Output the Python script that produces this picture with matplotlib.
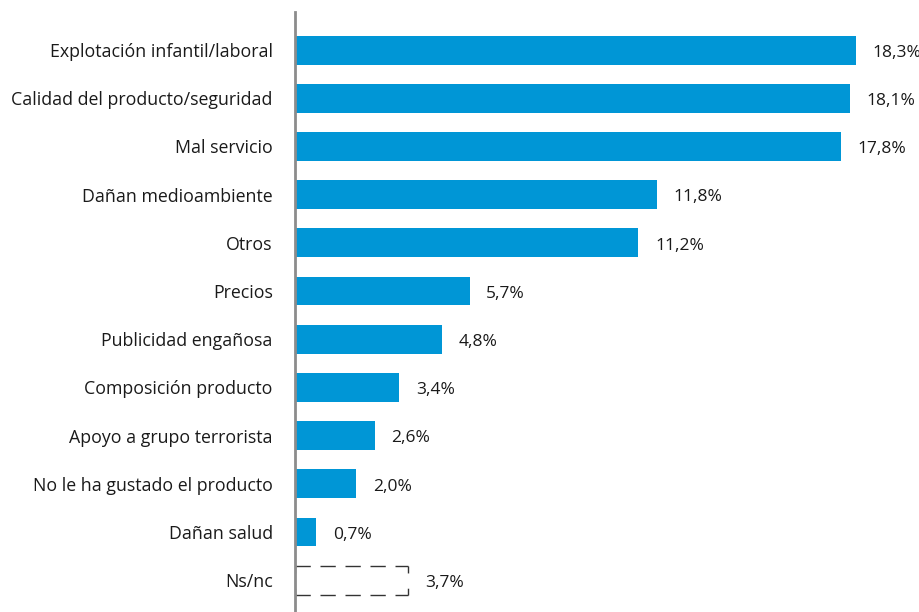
import matplotlib.pyplot as plt

categories = ['Explotación infantil/laboral', 'Calidad del producto/seguridad',
              'Mal servicio', 'Dañan medioambiente', 'Otros', 'Precios',
              'Publicidad engañosa', 'Composición producto',
              'Apoyo a grupo terrorista', 'No le ha gustado el producto',
              'Dañan salud', 'Ns/nc']
values = [18.3, 18.1, 17.8, 11.8, 11.2, 5.7, 4.8, 3.4, 2.6, 2.0, 0.7, 3.7]
dashed = [False] * 11 + [True]

plt.rcParams['font.family'] = ['Open Sans', 'DejaVu Sans']

fig = plt.figure(figsize=(9.2, 6.12), dpi=100)
ax = fig.add_axes([295 / 920, 0, 613 / 920, 600 / 612])

h = 0.6
pos = list(range(len(categories)))
for i, (v, d) in enumerate(zip(values, dashed)):
    if d:
        # Ns/nc drawn as an empty dashed box with bracket-like corners
        ax.hlines([i - h / 2, i + h / 2], 0, v, colors='#333333',
                  linewidth=1.0, linestyles=[(0, (11, 7))])
        ax.vlines([0, v], i - h / 2, i + h / 2, colors='#333333',
                  linewidth=1.0, linestyles=[(0, (5, 11))])
    else:
        ax.barh(i, v, height=h, color='#0096d6')
    ax.annotate(f'{v:.1f}%'.replace('.', ','), (v, i), xytext=(12, -2),
                textcoords='offset points', va='center', ha='left',
                fontsize=12.5, color='#1a1a1a')

ax.set_xlim(0, 20)
ax.set_ylim(11.66, -0.79)
ax.set_yticks(pos)
ax.set_yticklabels(categories, fontsize=12.8, color='#1a1a1a')
ax.tick_params(axis='y', length=0, pad=16)
ax.set_xticks([])
for s in ['top', 'right', 'bottom']:
    ax.spines[s].set_visible(False)
ax.spines['left'].set_color('#8c8c8c')
ax.spines['left'].set_linewidth(2)

fig.savefig('out.png', dpi=100)
